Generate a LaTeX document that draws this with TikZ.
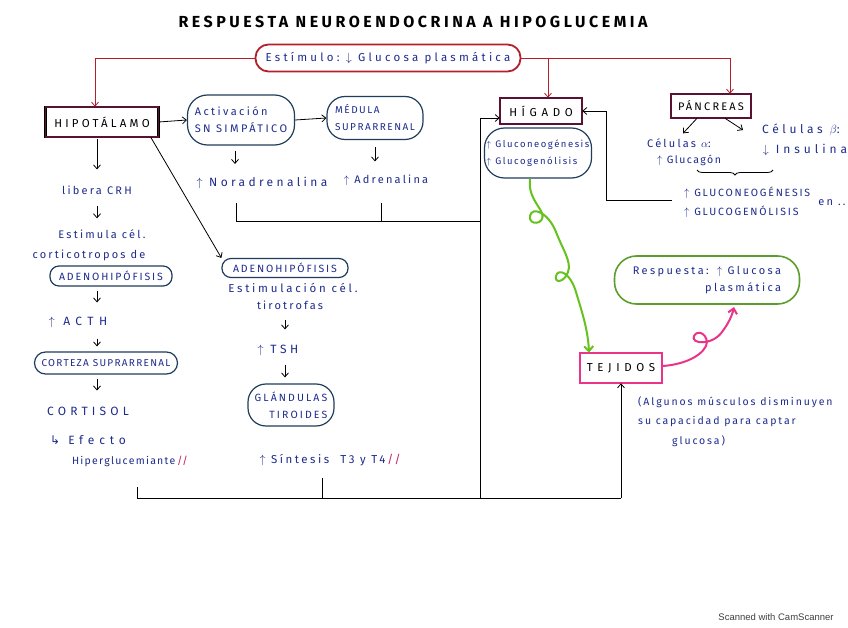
\documentclass[tikz,border=0pt]{standalone}
\usepackage{fontspec}
\setmainfont{Fira Sans}
\newfontfamily\djv{DejaVu Sans}
\newfontfamily\camfont{Liberation Sans}
\newcommand\fsz[3]{\fontsize{#1}{#2}\selectfont\addfontfeature{LetterSpace=#3}}
\usetikzlibrary{arrows.meta,decorations.pathreplacing,calc}
\definecolor{ink}{HTML}{1E2C8C}
\definecolor{blobc}{HTML}{1F3D5C}
\definecolor{redc}{HTML}{B3202C}
\definecolor{maroon}{HTML}{5A1232}
\definecolor{greenc}{HTML}{66C21E}
\definecolor{greenb}{HTML}{5C9E2E}
\definecolor{pinkc}{HTML}{E8358A}
\definecolor{markc}{HTML}{C0205A}
\begin{document}
\begin{tikzpicture}[x=1pt,y=-1pt,
  txt/.style={inner sep=1pt, text=ink, font=\fsz{11}{14}{20}},
  blob/.style={draw=blobc, line width=1.2pt, rounded corners=20pt, text=ink, inner sep=2pt},
  oval/.style={draw=blobc, line width=1.2pt, rounded corners=9pt, text=ink, inner sep=2pt},
  hbox/.style={draw=black, line width=0.6pt, double=maroon, double distance=1.2pt, text=black},
  tbox/.style={draw=black, line width=0.6pt, double=pinkc, double distance=1.3pt, text=black},
  estimbox/.style={draw=redc, line width=1.8pt, rounded corners=13pt, text=ink, font=\fsz{11.5}{14}{28}},
  respbox/.style={draw=greenb, line width=1.6pt, rounded corners=22pt, text=ink, font=\fsz{11}{17}{22}},
  arr/.style={draw=black, line width=0.8pt, -{Straight Barb[length=4pt,width=7pt]}},
  plain/.style={draw=black, line width=0.8pt},
  redarr/.style={draw=redc, line width=0.8pt, -{Straight Barb[length=4pt,width=7pt]}},
  greenarr/.style={draw=greenc, line width=2pt, -{Straight Barb[length=5pt,width=9pt]}},
  pinkarr/.style={draw=pinkc, line width=2pt, -{Straight Barb[length=5pt,width=9pt]}}
]
\useasboundingbox (0,0) rectangle (848,628);
\fill[white] (0,0) rectangle (848,628);

% title
\node[font=\bfseries\fsz{16}{18}{22}, text=black] (title) at (413,22) {RESPUESTA NEUROENDOCRINA A HIPOGLUCEMIA};

% stimulus
\node[estimbox, minimum width=265pt, minimum height=27pt] (estim) at (388,58) {Estímulo:\ $\downarrow$ Glucosa plasmática};

% main boxes
\node[hbox, minimum width=113pt, minimum height=30pt, font=\fsz{11.5}{14}{28}] (hipo) at (102,122) {HIPOTÁLAMO};
\node[hbox, minimum width=82pt, minimum height=26pt, font=\fsz{11.5}{14}{40}] (higado) at (541,111) {HÍGADO};
\node[hbox, minimum width=80pt, minimum height=24pt, font=\fsz{11}{14}{20}] (pan) at (711,106) {PÁNCREAS};
\node[tbox, minimum width=82pt, minimum height=30pt, font=\fsz{11.5}{14}{40}] (tej) at (621,368) {TEJIDOS};

% red connectors
\coordinate (hg) at ([xshift=7pt]higado.north);
\draw[redarr] (estim.west) -| ([xshift=-7pt]hipo.north);
\draw[redarr] (estim.east) -| ([xshift=19pt]pan.north);
\draw[redarr] (estim.east -| hg) -- (hg);

% sympathetic
\node[blob, minimum width=107pt, minimum height=50pt, align=left, font=\fsz{11}{17}{22}] (sns) at (241,120) {Activación\\SN SIMPÁTICO};
\node[blob, minimum width=96pt, minimum height=43pt, align=left, rounded corners=18pt, font=\fsz{10}{17}{15}] (med) at (375,118) {MÉDULA\\SUPRARRENAL};
\draw[arr] (hipo.east) -- (sns.west);
\draw[arr] (sns.east) -- (med.west);
\node[txt, font=\fsz{12}{14}{28}] (nor) at (262,183) {$\uparrow$ Noradrenalina};
\node[txt] (adr) at (386,180) {$\uparrow$ Adrenalina};
\draw[arr, shorten <=5pt, shorten >=12pt] ([xshift=-6pt]sns.south) -- ([xshift=-6pt]sns.south |- nor.north);
\draw[arr, shorten <=7pt, shorten >=12pt] (med.south) -- (med.south |- adr.north);

% left column
\coordinate (colL) at (97,0);
\node[txt] (crh) at (97,190) {libera CRH};
\node[txt] (est1) at (102,234) {Estimula cél.};
\node[txt] (est2) at (89,255) {corticotropos de};
\node[oval, minimum width=122pt, minimum height=20pt, font=\fsz{10.5}{12}{18}] (adh1) at (111,276) {ADENOHIPÓFISIS};
\node[txt, font=\fsz{12}{14}{45}] (acth) at (78,322) {$\uparrow$ ACTH};
\node[oval, minimum width=143pt, minimum height=22pt, rounded corners=11pt, font=\fsz{10}{12}{13}] (cort) at (106,363) {CORTEZA SUPRARRENAL};
\node[txt, font=\fsz{12}{14}{35}] (ctsl) at (88,411) {CORTISOL};
\node[txt, font=\fsz{12}{14}{40}] (efe) at (88,440) {{\djv ↳} Efecto};
\node[txt, font=\fsz{10.5}{14}{12}] (hip2) at (130,461) {Hiperglucemiante{\color{markc}\,//}};
\draw[arr, shorten <=2pt, shorten >=15pt] (colL |- hipo.south) -- (colL |- crh.north);
\draw[arr, shorten <=10pt, shorten >=10pt] (colL |- crh.south) -- (colL |- est1.north);
\draw[arr, shorten <=4pt, shorten >=13pt] (colL |- adh1.south) -- (colL |- acth.north);
\draw[arr, shorten <=10pt, shorten >=5pt] (colL |- acth.south) -- (colL |- cort.north);
\draw[arr, shorten <=4pt, shorten >=15pt] (colL |- cort.south) -- (colL |- ctsl.north);

% middle column
\coordinate (colM) at (285,0);
\node[oval, minimum width=126pt, minimum height=19pt, font=\fsz{10.5}{12}{18}] (adh2) at (285,268) {ADENOHIPÓFISIS};
\node[txt, font=\fsz{11.5}{14}{24}] (est3) at (293,288) {Estimulación cél.};
\node[txt] (tiro) at (290,305) {tirotrofas};
\node[txt, font=\fsz{12}{14}{30}] (tsh) at (278,350) {$\uparrow$ TSH};
\node[blob, minimum width=86pt, minimum height=42pt, align=right, rounded corners=18pt, font=\fsz{10.5}{17}{20}] (glan) at (291,405) {GLÁNDULAS\\TIROIDES};
\node[txt, font=\fsz{11.5}{14}{22}] (sint) at (330,460) {$\uparrow$ Síntesis\ \ T3\ y\ T4{\color{markc}\,//}};
\draw[arr] ([xshift=-8pt]hipo.south east) -- (adh2.north west);
\draw[arr, shorten <=9pt, shorten >=14pt] (colM |- tiro.south) -- (colM |- tsh.north);
\draw[arr, shorten <=8pt, shorten >=6pt] (colM |- tsh.south) -- (colM |- glan.north);

% liver
\node[blob, minimum width=107pt, minimum height=50pt, align=left, font=\fsz{9.5}{17}{16}] (hblob) at (538,153) {$\uparrow$ Gluconeogénesis\\$\uparrow$ Glucogenólisis};

% pancreas details
\node[txt] (alfa) at (679,143) {Células $\alpha$:};
\node[txt, font=\fsz{10.5}{14}{14}] (glucag) at (689,160) {$\uparrow$ Glucagón};
\node[txt, font=\fsz{12}{14}{30}] (beta) at (801,130) {Células $\beta$:};
\node[txt, font=\fsz{12}{14}{33}] (insu) at (805,150) {$\downarrow$ Insulina};
\draw[arr] ([xshift=-14pt]pan.south) -- ([xshift=4pt,yshift=4pt]alfa.north);
\draw[arr] ([xshift=14pt]pan.south) -- ([xshift=-18pt]beta.west);
\draw[draw=black, line width=0.8pt, decorate, decoration={brace, mirror, amplitude=5pt}] (697,170) -- (773,170);
\node[txt, anchor=west, font=\fsz{10.5}{14}{17}] (gneo) at (683,193) {$\uparrow$ GLUCONEOGÉNESIS};
\node[txt, anchor=west, font=\fsz{10.5}{14}{17}] (gglu) at (683,212) {$\uparrow$ GLUCOGENÓLISIS};
\node[txt] (en) at (832,203) {en ..};
\coordinate (pj) at (672,200);
\coordinate (pk) at ($(higado.east)+(24,0)$);
\draw[arr] (pj) -| (pk) -- (higado.east);

% catecholamine bracket and collecting lines
\coordinate (cb1) at (236,203);
\coordinate (cb2) at (381,203);
\coordinate (cbL) at (236,221);
\coordinate (jH) at (480,498);
\coordinate (jL) at (137,498);
\coordinate (tk1) at (137,487);
\coordinate (tk2) at (322,478);
\coordinate (jT) at (tej.south |- jL);
\coordinate (hin) at ([yshift=-7pt]higado.west);
\draw[plain] (cb1) -- (cbL) -- (cbL -| jH);
\draw[plain] (cb2) -- (cb2 |- cbL);
\draw[plain] (tk1) -- (jL) -- (jT);
\draw[plain] (tk2) -- (tk2 |- jL);
\draw[arr] (jT) -- (tej.south);
\draw[arr] (jH) -- (jH |- hin) -- (hin);

% response
\node[respbox, minimum width=185pt, minimum height=48pt, align=right] (resp) at (707,280) {Respuesta:\hspace{8pt}$\uparrow$ Glucosa\\plasmática};

% green curly arrow
\coordinate (gs) at ([xshift=-8pt]hblob.south);
\coordinate (ge) at ([xshift=-32pt]tej.north);
\draw[greenarr] (gs) .. controls (528,196) and (538,204) .. (542,213)
  .. controls (546,225) and (528,226) .. (530,216)
  .. controls (532,206) and (548,212) .. (556,232)
  .. controls (562,248) and (572,262) .. (568,272)
  .. controls (565,282) and (554,284) .. (556,276)
  .. controls (558,268) and (570,272) .. (576,292)
  .. controls (582,312) and (588,330) .. (ge);

% pink curly arrow
\coordinate (ps) at ([yshift=2pt]tej.east);
\coordinate (pe) at (734,307);
\draw[pinkarr] (ps) .. controls (680,365) and (700,358) .. (706,346)
  .. controls (710,336) and (698,328) .. (694,336)
  .. controls (690,344) and (712,346) .. (722,332)
  .. controls (728,324) and (732,316) .. (pe);

% note
\node[txt, anchor=north west, align=left, font=\fsz{10.5}{19.5}{18}] (note) at (637,395) {(Algunos músculos disminuyen\\ su capacidad para captar\\\hspace*{34pt}glucosa)};

% scanner mark
\node[font=\camfont\fontsize{9.5}{11}\selectfont, text=black!75] (cam) at (776,617) {Scanned with CamScanner};
\end{tikzpicture}
\end{document}
